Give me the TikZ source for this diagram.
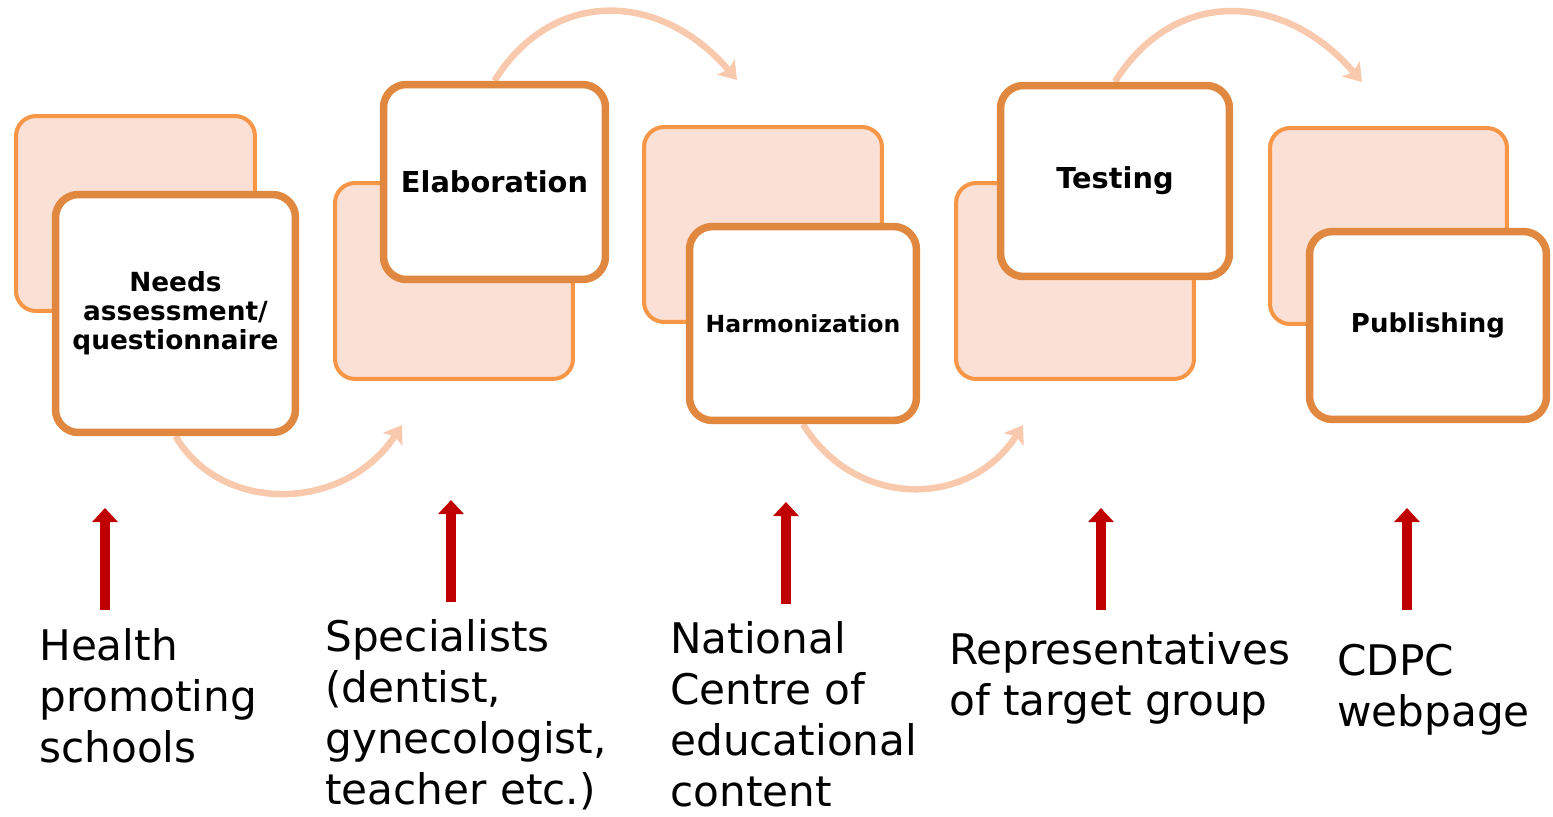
\documentclass[tikz,border=0pt]{standalone}
\usepackage{fontspec}
\setmainfont{DejaVu Sans}
\usepackage{tikz}
\usetikzlibrary{positioning,calc,backgrounds}
\usetikzlibrary{arrows.meta}

\definecolor{frontline}{RGB}{224,136,64}
\definecolor{backline}{RGB}{247,150,70}
\definecolor{backfill}{RGB}{251,224,213}
\definecolor{flowcol}{RGB}{249,201,174}
\definecolor{inputred}{RGB}{192,0,0}

\tikzset{
	front/.style={draw=frontline, fill=white, line width=0.15cm, rounded corners=0.46cm, align=center, inner sep=0pt},
	back/.style={draw=backline, fill=backfill, line width=0.08cm, rounded corners=0.4cm, inner sep=0pt},
	flow/.style={draw=flowcol, line width=0.13cm, -{Stealth[length=0.34cm,width=0.46cm,inset=0.07cm]}},
	input/.style={draw=inputred, line width=0.2cm, -{Triangle[length=0.28cm,width=0.5cm]}},
	who/.style={anchor=north west, align=left, inner sep=0pt, font=\fontsize{24}{29}\selectfont}
}

\begin{document}
\begin{tikzpicture}[x=0.02cm, y=-0.02cm]
	\useasboundingbox (0,0) rectangle (1553,816);

	% steps: back card, then front card
	\node[back, minimum width=4.78cm, minimum height=3.9cm] (b1) at (135.5,213.5) {};
	\node[front, minimum width=4.8cm, minimum height=4.76cm, font=\bfseries\fontsize{15}{16.5}\selectfont] (f1) at (175.5,313.5) {Needs\\assessment/\\questionnaire};

	\node[back, minimum width=4.76cm, minimum height=3.92cm] (b2) at (454,281) {};
	\node[front, minimum width=4.44cm, minimum height=3.9cm, font=\bfseries\fontsize{16.4}{19}\selectfont] (f2) at (494.5,182) {Elaboration};

	\node[back, minimum width=4.76cm, minimum height=3.9cm] (b3) at (763,224.5) {};
	\node[front, minimum width=4.54cm, minimum height=3.88cm, font=\bfseries\fontsize{13.4}{16}\selectfont] (f3) at (803,323.5) {Harmonization};

	\node[back, minimum width=4.76cm, minimum height=3.92cm] (b4) at (1075,281) {};
	\node[front, minimum width=4.58cm, minimum height=3.82cm, font=\bfseries\fontsize{16.4}{19}\selectfont] (f4) at (1115,181) {Testing};

	\node[back, minimum width=4.74cm, minimum height=3.92cm] (b5) at (1388.5,226) {};
	\node[front, minimum width=4.74cm, minimum height=3.76cm, font=\bfseries\fontsize{14.8}{17}\selectfont] (f5) at (1428,325.5) {Publishing};

	% flow between steps
	\coordinate (e1) at (402,425);
	\coordinate (e2) at (737,80);
	\coordinate (e3) at (1023,425);
	\coordinate (e4) at (1362,82);
	\begin{scope}[on background layer]
		\draw[flow] (f1.south) .. controls (222,515) and (345,512) .. (e1);
		\draw[flow] (f2.north) .. controls (552,-12) and (660,-10) .. (e2);
		\draw[flow] (f3.south) .. controls (856,510) and (970,508) .. (e3);
		\draw[flow] (f4.north) .. controls (1173,-12) and (1283,-10) .. (e4);
	\end{scope}

	% who takes part
	\node[who] (w1) at (39,628) {Health\\promoting\\schools};
	\node[who] (w2) at (325,619) {Specialists\\(dentist,\\gynecologist,\\teacher etc.)};
	\node[who] (w3) at (670,621) {National\\Centre of\\educational\\content};
	\node[who] (w4) at (949,632) {Representatives\\of target group};
	\node[who] (w5) at (1337,644) {CDPC\\webpage};

	\coordinate (r1) at (105,610); \coordinate (t1) at (105,508);
	\coordinate (r2) at (451,602); \coordinate (t2) at (451,500);
	\coordinate (r3) at (786,604); \coordinate (t3) at (786,502);
	\coordinate (r4) at (1101,610); \coordinate (t4) at (1101,508);
	\coordinate (r5) at (1407,610); \coordinate (t5) at (1407,508);
	\foreach \i in {1,...,5}
		\draw[input] (r\i) -- (t\i);
\end{tikzpicture}
\end{document}
